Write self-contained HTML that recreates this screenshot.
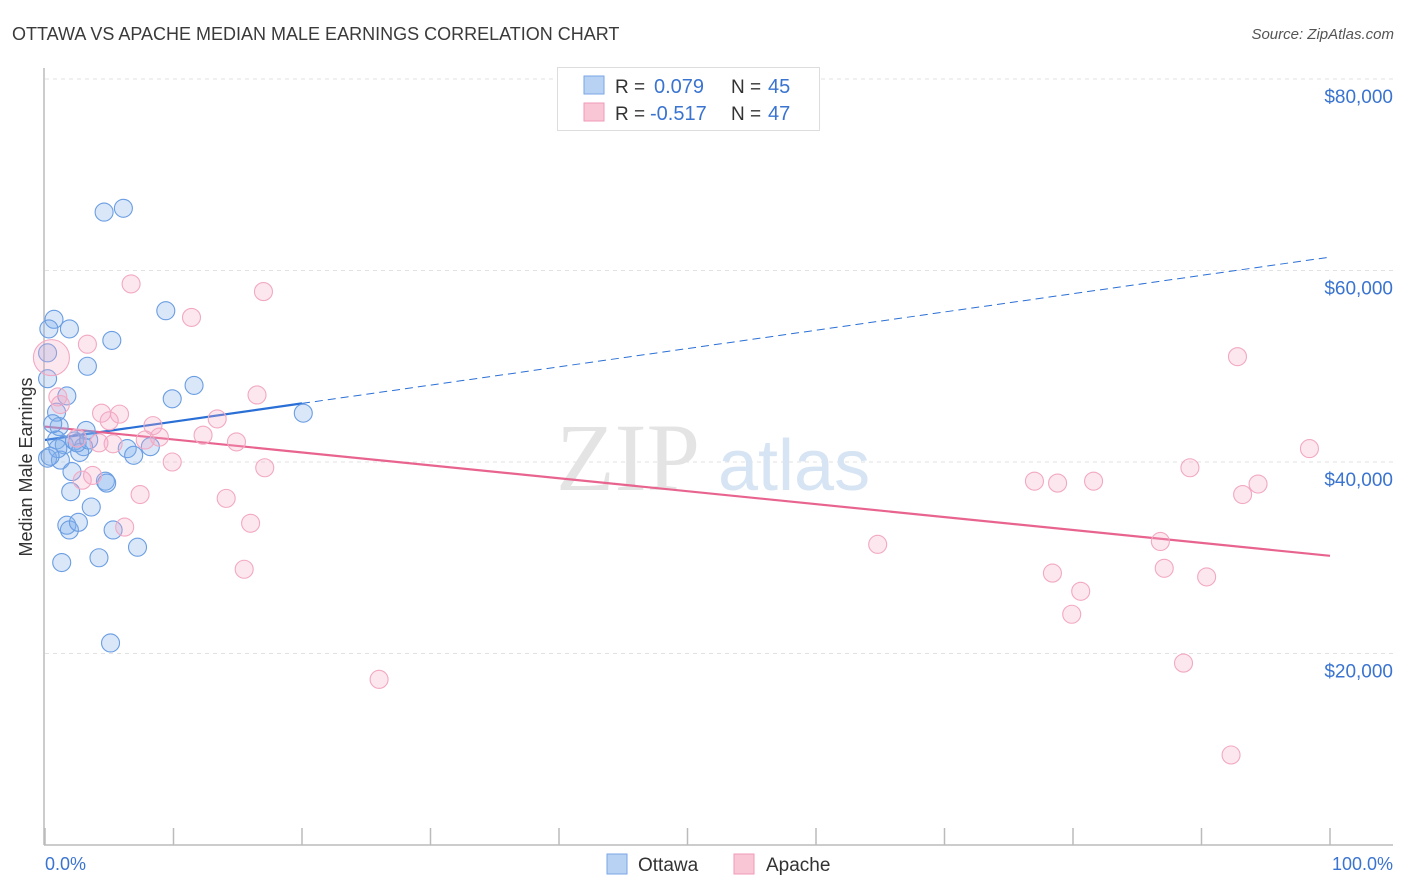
<!DOCTYPE html>
<html><head><meta charset="utf-8"><style>
body{margin:0;background:#fff;font-family:"Liberation Sans",sans-serif;}
svg{display:block}
</style></head><body>
<svg id="chart" width="1406" height="892" xmlns="http://www.w3.org/2000/svg">
<text x="12" y="40" font-size="18" fill="#3a3a3a">OTTAWA VS APACHE MEDIAN MALE EARNINGS CORRELATION CHART</text>
<text x="1394" y="39" font-size="15" fill="#555" font-style="italic" text-anchor="end">Source: ZipAtlas.com</text>
<g id="grid"></g>
<text x="700" y="490" font-size="96" fill="#e4e4e4" text-anchor="end" font-family="Liberation Serif,serif">ZIP</text>
<text x="718" y="490" font-size="72" fill="#d6e4f4">atlas</text>
<line x1="44" y1="68" x2="44" y2="845" stroke="#bbb" stroke-width="1.5"/>
<line x1="44" y1="845" x2="1393" y2="845" stroke="#bbb" stroke-width="1.5"/>
<text x="20" y="455" font-size="18" fill="#333" text-anchor="middle" transform="rotate(-90 32 455)">Median Male Earnings</text>
<text x="45" y="870" font-size="18" fill="#3a74d0">0.0%</text>
<text x="1393" y="870" font-size="18" fill="#3a74d0" text-anchor="end">100.0%</text>
<g id="lines"></g>
<g id="pts"></g>
<g>
<rect x="557.5" y="67.5" width="262" height="63" fill="#fff" stroke="#ddd"/>
<rect x="584" y="76" width="20" height="18" fill="#b8d2f4" stroke="#7aa6e6"/>
<rect x="584" y="103" width="20" height="18" fill="#f9c6d6" stroke="#f09ab6"/>
<text x="615" y="93" font-size="19" fill="#333">R = </text><text x="654" y="93" font-size="20" fill="#3a74d0">0.079</text>
<text x="731" y="93" font-size="19" fill="#333">N = </text><text x="768" y="93" font-size="20" fill="#3a74d0">45</text>
<text x="615" y="120" font-size="19" fill="#333">R = </text><text x="650" y="120" font-size="20" fill="#3a74d0">-0.517</text>
<text x="731" y="120" font-size="19" fill="#333">N = </text><text x="768" y="120" font-size="20" fill="#3a74d0">47</text>
</g>
<g>
<rect x="607" y="854" width="20" height="20" fill="#b8d2f4" stroke="#7aa6e6"/>
<text x="638" y="871" font-size="19" fill="#333">Ottawa</text>
<rect x="734" y="854" width="20" height="20" fill="#f9c6d6" stroke="#f09ab6"/>
<text x="766" y="871" font-size="19" fill="#333">Apache</text>
</g>
</svg>
<script>
const yTicks=[20000,40000,60000,80000];
const yTickLabels=["$20,000","$40,000","$60,000","$80,000"];
const ottawaX=[4.6,6.1,0.7,0.2,1.9,5.2,3.3,9.4,11.6,9.9,20.1,0.2,1.7,0.9,1.1,3.2,0.9,1.5,2.3,3.0,2.7,0.2,1.2,6.4,6.9,2.1,4.7,2.0,3.6,1.7,1.9,2.6,5.3,7.2,1.3,4.2,5.1,0.3,4.8,2.5,1.0,0.4,3.4,8.2,0.6];
const ottawaY=[66100,66500,54900,51400,53900,52700,50000,55800,48000,46600,45100,48700,46900,45200,43700,43300,42300,41800,42200,41600,41000,40400,40200,41400,40700,39000,38000,36900,35300,33400,32900,33700,32900,31100,29500,30000,21100,53900,37800,42000,41400,40600,42300,41600,44000];
const apacheX=[0.5,6.7,17,11.4,3.3,1.0,1.2,16.5,4.4,5.8,5.0,13.4,8.4,8.9,7.8,12.3,14.9,5.3,9.9,17.1,3.7,2.9,7.4,14.1,6.2,16.0,15.5,26.0,64.8,77.0,78.8,81.6,78.4,80.6,79.9,86.8,87.1,89.1,92.8,93.2,94.4,90.4,88.6,92.3,98.4,2.5,4.2];
const apacheY=[50900,58600,57800,55100,52300,46800,46000,47000,45100,45000,44300,44500,43800,42600,42300,42800,42100,41900,40000,39400,38600,38100,36600,36200,33200,33600,28800,17300,31400,38000,37800,38000,28400,26500,24100,31700,28900,39400,51000,36600,37700,28000,19000,9400,41400,42500,42000];
const ottawaFit=[42300,61400];
const apacheFit=[43700,30200];
const NS="http://www.w3.org/2000/svg";
const xs=v=>45+v/100*1285;
const ys=v=>845-v/20000*191.5;
function mk(t,a,p){const e=document.createElementNS(NS,t);for(const k in a)e.setAttribute(k,a[k]);p.appendChild(e);return e;}
const grid=document.getElementById('grid');
yTicks.forEach((t,i)=>{
 const l=mk('line',{x1:45,x2:1393,y1:ys(t),y2:ys(t),stroke:'#e2e2e2','stroke-dasharray':'4 4'},grid);
 
 
 const tx=mk('text',{x:1393,y:ys(t)+24,'font-size':19,fill:'#3a74d0','text-anchor':'end'},grid);
 tx.textContent=yTickLabels[i];
 
 
});
for(let i=0;i<=10;i++){
 const t=mk('line',{x1:xs(i*10),x2:xs(i*10),y1:828,y2:845,stroke:'#bbb','stroke-width':1.5},grid);
 
 
}
const pts=document.getElementById('pts');
ottawaX.forEach((x,i)=>{
 const c=mk('circle',{cx:xs(x),cy:ys(ottawaY[i]),r:9,fill:'rgba(130,175,235,0.3)',stroke:'#6a9de2','stroke-width':1.1},pts);
 
 
});
apacheX.forEach((x,i)=>{
 const c=mk('circle',{cx:xs(x),cy:ys(apacheY[i]),r:i==0?18:9,fill:'rgba(245,170,198,0.28)',stroke:'#f2a8c2','stroke-width':1.1},pts);
 
 
});
const lines=document.getElementById('lines');
const fb=x=>ottawaFit[0]+(ottawaFit[1]-ottawaFit[0])*x/100;
const fa=x=>apacheFit[0]+(apacheFit[1]-apacheFit[0])*x/100;
let l1=mk('line',{x1:xs(0),y1:ys(fb(0)),x2:xs(20),y2:ys(fb(20)),stroke:'#2a6fd6','stroke-width':2.2},lines);


let l2=mk('line',{x1:xs(20),y1:ys(fb(20)),x2:xs(100),y2:ys(fb(100)),stroke:'#2a6fd6','stroke-width':1,'stroke-dasharray':'8 5'},lines);


let l3=mk('line',{x1:xs(0),y1:ys(fa(0)),x2:xs(100),y2:ys(fa(100)),stroke:'#e8648f','stroke-width':2.2},lines);


</script>
</body></html>
